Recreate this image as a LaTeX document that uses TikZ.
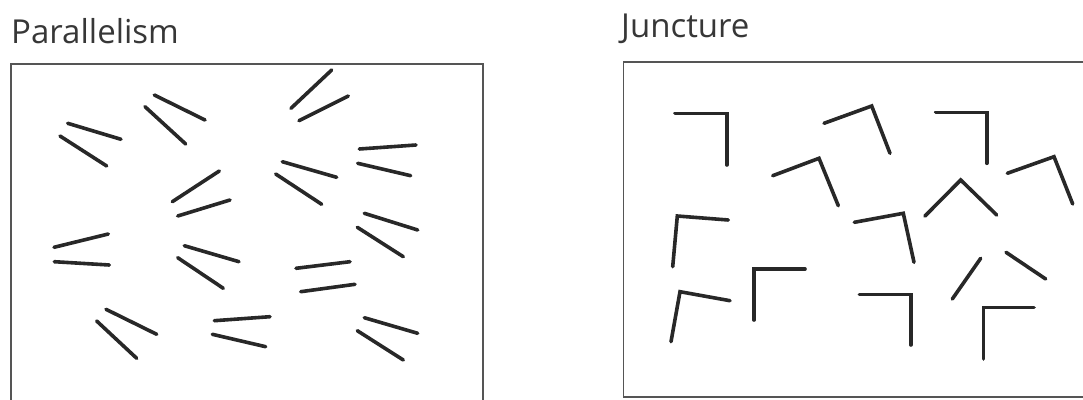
\documentclass[tikz,border=0pt]{standalone}
\usepackage{fontspec}
\setmainfont{Open Sans}
\begin{document}
\begin{tikzpicture}[x=1pt,y=-1pt,
  seg/.style={line width=3.6pt,line cap=round,line join=miter,draw={rgb,255:red,40;green,40;blue,40}},
  frame/.style={line width=1.8pt,draw={rgb,255:red,85;green,85;blue,85}},
  title/.style={anchor=base west,inner sep=0pt,text={rgb,255:red,55;green,55;blue,55},font=\fontsize{33}{38}\selectfont}]
\useasboundingbox (0,0) rectangle (1083,399);
\clip (0,0) rectangle (1083,399);
\node[title] (ptitle) at (11,43) {Parallelism};
\node[title] (jtitle) at (621,37) {Juncture};
% frames
\draw[frame] (11,64) rectangle (483,420);
\draw[frame] (623.5,62) rectangle (1100,397);
% parallelism
\draw[seg] (67.7,123.3) -- (121,139.3);
\draw[seg] (60,136) -- (106.7,166);
\draw[seg] (154.3,95) -- (205,120);
\draw[seg] (145,106.7) -- (185.7,144);
\draw[seg] (291,108.3) -- (331.7,70);
\draw[seg] (299,120.7) -- (348.3,96);
\draw[seg] (359.3,149) -- (416,145);
\draw[seg] (357.7,163.3) -- (410.7,175.7);
\draw[seg] (282.3,161.7) -- (336.7,177.3);
\draw[seg] (275.7,174) -- (321.7,204.3);
\draw[seg] (172.3,201.7) -- (219.3,171);
\draw[seg] (177.7,216) -- (230,200);
\draw[seg] (364.3,213.3) -- (417.7,230);
\draw[seg] (357.3,227.3) -- (403.3,256.7);
\draw[seg] (54,247.3) -- (108.3,234);
\draw[seg] (54.3,261.7) -- (109.3,265);
\draw[seg] (184.3,245.7) -- (239,261.7);
\draw[seg] (177.7,257.7) -- (223.3,288.3);
\draw[seg] (296,268.3) -- (350,261.7);
\draw[seg] (300.7,291.7) -- (355,284.3);
\draw[seg] (106,309.3) -- (156.7,334.3);
\draw[seg] (96.7,321) -- (136.7,358.3);
\draw[seg] (214.3,320.7) -- (270,316.7);
\draw[seg] (212.3,334.3) -- (265.7,346.7);
\draw[seg] (364.3,317.7) -- (417.7,333.3);
\draw[seg] (357.3,330.7) -- (403.3,360);
% juncture
\draw[seg] (675,113.3) -- (726.7,113.3) -- (726.7,165);
\draw[seg] (824,123.3) -- (871.7,106) -- (890,153.3);
\draw[seg] (935.7,112.3) -- (986.7,112.3) -- (986.7,163.3);
\draw[seg] (772.7,175.7) -- (819,158.3) -- (838.3,205.7);
\draw[seg] (1007.3,173.3) -- (1054,156.7) -- (1072.7,204);
\draw[seg] (925,216) -- (960.7,180) -- (996.7,215);
\draw[seg] (728.3,220) -- (677.3,216) -- (672.7,266.7);
\draw[seg] (854.3,222.3) -- (903.3,213.3) -- (914,262.3);
\draw[seg] (730,300.7) -- (680,291.7) -- (671,341.7);
\draw[seg] (805,269) -- (754,269) -- (754,320);
\draw[seg] (859.3,294.3) -- (910.7,294.3) -- (910.7,345);
\draw[seg] (952.3,299) -- (980.7,258.3);
\draw[seg] (1006,252.3) -- (1045.7,279);
\draw[seg] (1034,307.3) -- (983.3,307.3) -- (983.3,359);
\end{tikzpicture}
\end{document}
